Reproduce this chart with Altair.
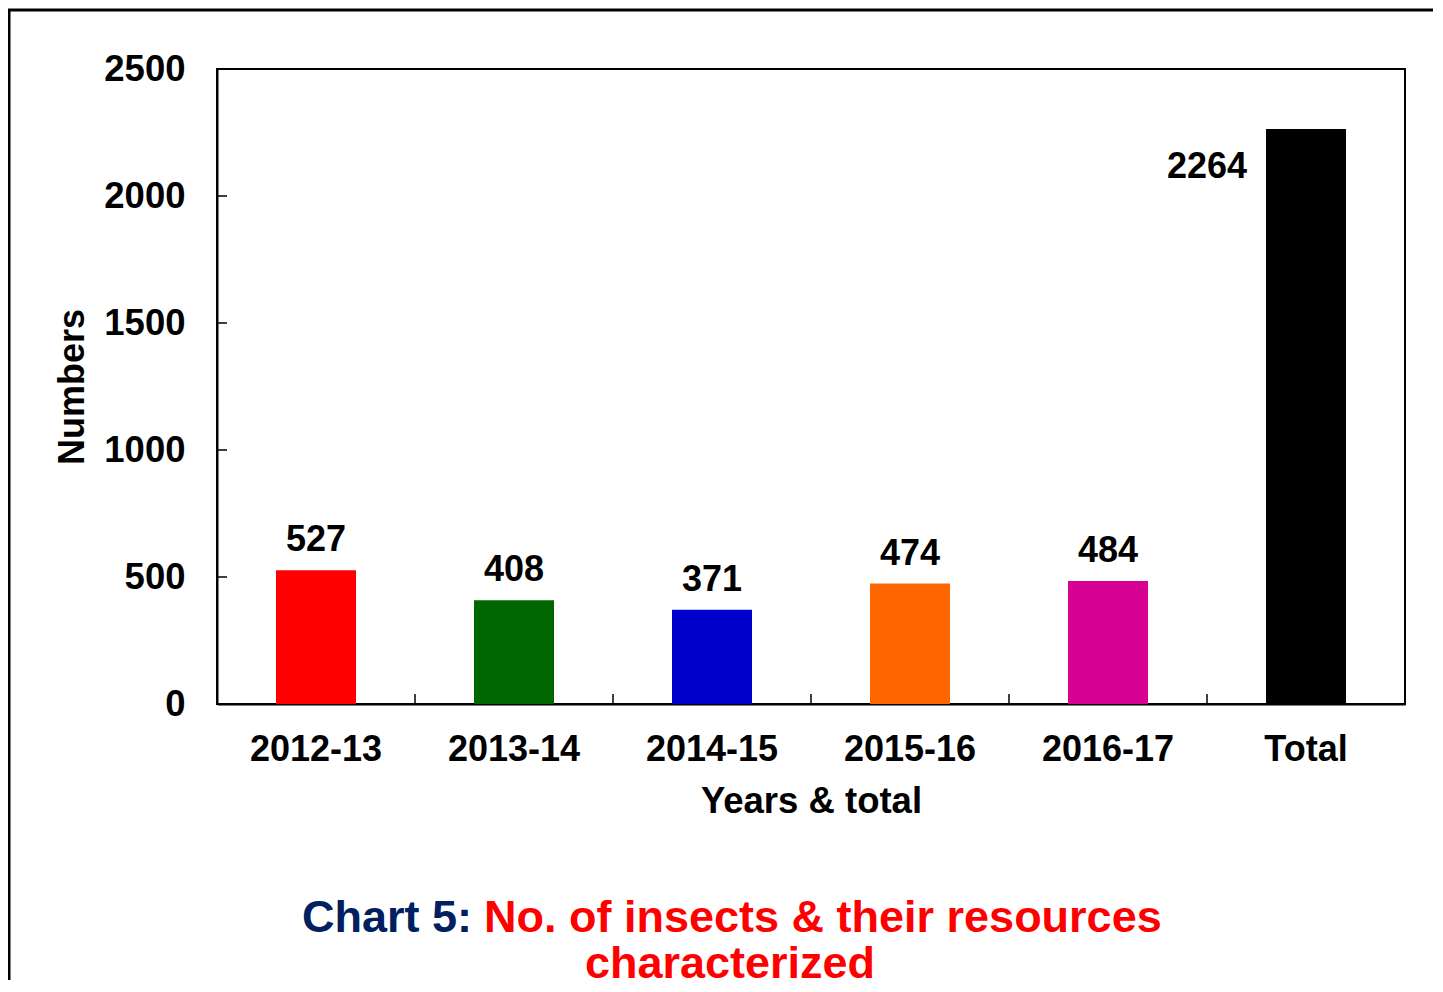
import altair as alt
import pandas as pd

categories = ["2012-13", "2013-14", "2014-15", "2015-16", "2016-17", "Total"]
values = [527, 408, 371, 474, 484, 2264]
colors = ["#FF0000", "#006600", "#0000CC", "#FF6600", "#D60093", "#000000"]
y_ticks = [0, 500, 1000, 1500, 2000, 2500]

FONT = "Liberation Sans"
W, H = 1188, 635

df = pd.DataFrame({"cat": categories, "val": values, "color": colors})
years_df = df[df["cat"] != "Total"]
total_df = df[df["cat"] == "Total"]
xtick_df = pd.DataFrame({"cat": categories[1:]})
ytick_df = pd.DataFrame({"v": y_ticks[1:-1]})

xscale = alt.Scale(domain=categories, paddingInner=0, paddingOuter=0)
yscale = alt.Scale(domain=[0, 2500], nice=False)

x_enc = alt.X(
    "cat:N", sort=categories, scale=xscale,
    axis=alt.Axis(
        title="Years & total", labelAngle=0, ticks=False, tickSize=0,
        labelFont=FONT, labelFontSize=36, labelFontWeight="bold", labelColor="black",
        labelPadding=28, titleFont=FONT, titleFontSize=36.5, titleFontWeight="bold",
        titleColor="black", titlePadding=16, domainColor="black", domainWidth=2,
    ),
)
y_enc = alt.Y(
    "val:Q", scale=yscale,
    axis=alt.Axis(
        title="Numbers", values=y_ticks, format="d", grid=False, ticks=False, tickSize=0,
        labelFont=FONT, labelFontSize=36.5, labelFontWeight="bold", labelColor="black",
        labelPadding=32, titleFont=FONT, titleFontSize=36, titleFontWeight="bold",
        titleColor="black", titlePadding=12, domainColor="black", domainWidth=2,
    ),
)

bars = alt.Chart(df).mark_bar(size=80).encode(
    x=x_enc, y=y_enc, color=alt.Color("color:N", scale=None)
)

year_labels = alt.Chart(years_df).mark_text(
    font=FONT, fontSize=36, fontWeight="bold", color="black",
    baseline="alphabetic", dy=-19,
).encode(x=alt.X("cat:N", sort=categories), y="val:Q", text="val:Q")

total_label = alt.Chart(total_df).mark_text(
    font=FONT, fontSize=36, fontWeight="bold", color="black",
    baseline="alphabetic", align="right", dx=-59, dy=49,
).encode(x=alt.X("cat:N", sort=categories), y="val:Q", text="val:Q")

xticks = alt.Chart(xtick_df).mark_rule(color="black", strokeWidth=1.5).encode(
    x=alt.X("cat:N", sort=categories, bandPosition=0),
    y=alt.value(H), y2=alt.value(H - 10),
)
yticks = alt.Chart(ytick_df).mark_rule(color="black", strokeWidth=1.5).encode(
    y=alt.Y("v:Q"), x=alt.value(0), x2=alt.value(10),
)

one = alt.Data(values=[{"a": 1}])
frame = alt.Chart(one).mark_rect(
    fill=None, stroke="black", strokeWidth=3, clip=False
).encode(x=alt.value(-208), x2=alt.value(1400), y=alt.value(-59), y2=alt.value(1000))

title_a = alt.Chart(one).mark_text(
    text="Chart 5:", font=FONT, fontSize=45, fontWeight="bold", color="#002060",
    align="right", baseline="alphabetic",
).encode(x=alt.value(255), y=alt.value(863))
title_b = alt.Chart(one).mark_text(
    text="No. of insects & their resources", font=FONT, fontSize=45,
    fontWeight="bold", color="#FF0000", align="left", baseline="alphabetic",
).encode(x=alt.value(267), y=alt.value(863))
title_c = alt.Chart(one).mark_text(
    text="characterized", font=FONT, fontSize=45, fontWeight="bold",
    color="#FF0000", align="center", baseline="alphabetic",
).encode(x=alt.value(513), y=alt.value(909))

chart = alt.layer(
    frame, bars, year_labels, total_label, xticks, yticks, title_a, title_b, title_c
).properties(
    width=W, height=H, autosize="none",
    padding={"left": 209, "top": 61, "right": 28, "bottom": 276},
    background="white",
).configure_view(stroke="black", strokeWidth=2)

chart.save("out.html", embed_options={"renderer": "svg", "actions": False})
